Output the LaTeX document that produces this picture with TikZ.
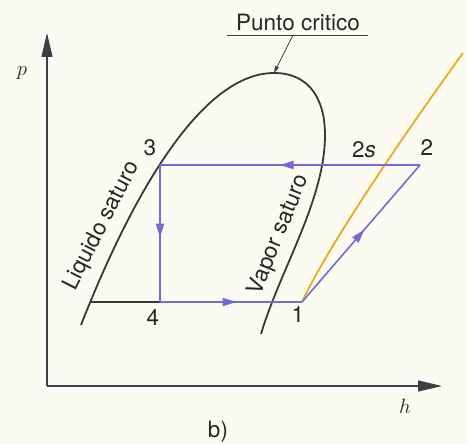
\documentclass[tikz,border=0pt]{standalone}
\usepackage{fontspec}
\setmainfont{TeX Gyre Heros}
\usetikzlibrary{arrows.meta,decorations.markings}
\definecolor{bgc}{RGB}{252,251,242}
\definecolor{cyc}{RGB}{112,108,212}
\definecolor{dome}{RGB}{58,54,60}
\definecolor{orng}{RGB}{240,168,30}
\definecolor{axc}{RGB}{62,62,72}
\tikzset{
  axis/.style={axc, line width=1.2pt, -{Triangle[length=24pt,width=11pt]}},
  domeline/.style={dome, line width=1.8pt},
  cycle/.style={cyc, line width=2pt},
  midarrow/.style={postaction={decorate}, decoration={markings,
     mark=at position #1 with {\arrow{Triangle[length=14pt,width=8pt]}}}},
  lbl/.style={font=\fontsize{22.5}{24}\selectfont, text=black!85, inner sep=0pt},
}
\begin{document}
\begin{tikzpicture}[x=1pt,y=-1pt]
\useasboundingbox (0,0) rectangle (467,444);
\fill[bgc] (0,0) rectangle (467,444);

% axes
\coordinate (O) at (47,386);
\coordinate (ytip) at (47,33);
\coordinate (xtip) at (442,386);
\draw[axis] (O) -- (ytip);
\draw[axis] (O) -- (xtip);
\node[lbl] (p) at (22,73) {$p$};
\node[lbl] (h) at (405,406) {$h$};
\node[lbl] (b) at (218,432) {b)};

% saturation dome
\coordinate (dl) at (81,325);
\coordinate (cp) at (274,73);
\coordinate (dr) at (325,135);
\coordinate (de) at (261,334);
\draw[domeline] (dl) .. controls (130,200) and (200,73) .. (cp)
   .. controls (310,73) and (325,100) .. (dr)
   .. controls (325,200) and (280,270) .. (de);

% cycle points
\coordinate (p3) at (160,165);
\coordinate (p4) at (160,302);
\coordinate (p1) at (302,302);
\coordinate (p2) at (420,165);
\coordinate (lq) at (90,302);

\draw[dome, line width=1.2pt] (lq) -- (p4);

% orange isentrope
\coordinate (oe) at (463,53);
\draw[orng, line width=1.8pt] (p1) .. controls (327,248) and (400,140) .. (oe);

% cycle
\draw[cycle, midarrow=0.54] (p2) -- (p3);
\draw[cycle, midarrow=0.53] (p3) -- (p4);
\draw[cycle, midarrow=0.54] (p4) -- (p1);
\draw[cycle, line width=1.6pt, midarrow=0.53] (p1) -- (p2);

% labels
\node[lbl] (l3) at (150,148) {3};
\node[lbl] (l2s) at (364,150) {2\textit{\rmfamily s}};
\node[lbl] (l2) at (427,148) {2};
\node[lbl] (l4) at (153,318) {4};
\node[lbl] (l1) at (298,315) {1};

\node[lbl, rotate=63] (liq) at (102,226) {Liquido saturo};
\node[lbl, rotate=68] (vap) at (279,235) {Vapor saturo};

% critical point
\node[lbl] (pc) at (298,22) {Punto critico};
\coordinate (ul) at (227,35);
\coordinate (ur) at (368,35);
\coordinate (lead) at (293,35);
\draw[axc, line width=0.8pt] (ul) -- (ur);
\draw[axc, line width=0.7pt, -{Triangle[length=7pt,width=4pt]}] (lead) -- (cp);
\end{tikzpicture}
\end{document}
